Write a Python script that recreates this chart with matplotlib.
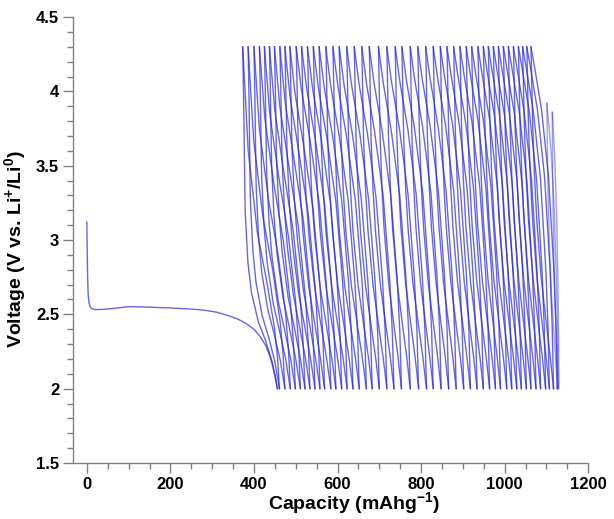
import numpy as np
import matplotlib
matplotlib.use("Agg")
import matplotlib.pyplot as plt
from matplotlib.ticker import MultipleLocator

plt.rcParams['font.family'] = ['Liberation Sans', 'DejaVu Sans']
plt.rcParams['mathtext.fontset'] = 'custom'
plt.rcParams['mathtext.rm'] = 'Liberation Sans:bold'
plt.rcParams['mathtext.bf'] = 'Liberation Sans:bold'
plt.rcParams['mathtext.default'] = 'bf'

# ---- data ----
# first discharge (capacity mAh/g, voltage V)
first_cap = [0, 0.5, 1.5, 3, 5, 8, 12, 20, 35, 50, 70, 90, 100, 120, 150, 200, 250, 280, 310,
             340, 360, 380, 400, 415, 428, 438, 446, 452, 456]
first_v = [3.12, 3.0, 2.8, 2.64, 2.58, 2.55, 2.538, 2.532, 2.533, 2.536, 2.542, 2.548, 2.552,
           2.551, 2.548, 2.543, 2.535, 2.528, 2.515, 2.49, 2.47, 2.44, 2.40, 2.35, 2.29,
           2.22, 2.14, 2.07, 2.0]

# capacity at the end of each charge (4.3 V tips)
top_cap = [373, 386, 400, 413, 425, 437, 449, 462, 474, 486, 501, 514, 528, 542, 556, 572,
           589, 604, 622, 640, 658, 676, 698, 718, 738, 754, 774, 792, 811, 829, 846, 862,
           878, 893, 908, 921, 936, 949, 961, 973, 985, 997, 1009, 1021, 1033, 1043, 1053, 1063]
# capacity at the end of each discharge (2.0 V tips); first one = end of first discharge
bot_cap = [456, 461, 474, 487, 499, 511, 522, 534, 546, 558, 569, 584, 596, 610, 623, 637, 652,
           669, 683, 700, 718, 735, 753, 774, 794, 813, 829, 848, 866, 884, 902, 918, 934,
           949, 964, 978, 990, 1005, 1017, 1029, 1040, 1052, 1063, 1075, 1086, 1098, 1107, 1117, 1126]
# last partial cycles (charge stopping below 4.3 V)
tail_top_cap = [1101, 1114]
tail_top_v = [3.92, 3.86]
tail_bot_cap = [1128, 1130]

v_low, v_high = 2.0, 4.3

# normalized curve shapes: fraction of the span measured from the 4.3 V tip -> voltage
chg_f = [0.0, 0.03, 0.07, 0.15, 0.25, 0.45, 0.65, 0.85, 1.0]
chg_early_v = [4.3, 3.9, 3.2, 2.85, 2.65, 2.45, 2.33, 2.18, 2.0]
chg_late_v = [4.3, 4.1, 3.8, 3.45, 3.15, 2.75, 2.48, 2.22, 2.0]
dis_f = [0.0, 0.15, 0.4, 0.67, 0.87, 0.95, 1.0]
dis_early_v = [4.3, 3.6, 3.05, 2.7, 2.4, 2.2, 2.0]
dis_late_v = [4.3, 4.15, 3.88, 3.42, 2.8, 2.42, 2.0]
blend_cycle = [0, 3, 10, 47]
blend_w = [0.0, 0.4, 0.75, 1.0]

fig = plt.figure(figsize=(6.14, 5.19), dpi=100)
ax = fig.add_axes([0.119, 0.108, 0.839, 0.859])

color = '#2a2ae0'
lw = 1.0
al = 0.72

ax.plot(first_cap, first_v, color=color, lw=lw, alpha=al)

fgrid = np.linspace(0, 1, 120)
def seg(x_tip, x_end, fpts, ve, vl, w, vtop=v_high):
    v = (1 - w) * np.interp(fgrid, fpts, ve) + w * np.interp(fgrid, fpts, vl)
    v = v_low + (v - v_low) * (vtop - v_low) / (v_high - v_low)
    x = x_tip + fgrid * (x_end - x_tip)
    return x, v

n = len(top_cap)
for k in range(n):
    w = np.interp(k, blend_cycle, blend_w)
    # charge: from bot_cap[k] up to top_cap[k]
    x, v = seg(top_cap[k], bot_cap[k], chg_f, chg_early_v, chg_late_v, w)
    ax.plot(x, v, color=color, lw=lw, alpha=al)
    # discharge: from top_cap[k] down to bot_cap[k+1]
    x, v = seg(top_cap[k], bot_cap[k + 1], dis_f, dis_early_v, dis_late_v, w)
    ax.plot(x, v, color=color, lw=lw, alpha=al)

prev_bot = bot_cap[-1]
for tc, tv, bc in zip(tail_top_cap, tail_top_v, tail_bot_cap):
    x, v = seg(tc, prev_bot, chg_f, chg_late_v, chg_late_v, 1.0, tv)
    ax.plot(x, v, color=color, lw=lw, alpha=0.45)
    x, v = seg(tc, bc, dis_f, dis_late_v, dis_late_v, 1.0, tv)
    ax.plot(x, v, color=color, lw=lw, alpha=0.45)
    prev_bot = bc

ax.set_xlim(-33, 1200)
ax.set_ylim(1.5, 4.5)
ax.xaxis.set_major_locator(MultipleLocator(200))
ax.xaxis.set_minor_locator(MultipleLocator(50))
ax.yaxis.set_minor_locator(MultipleLocator(0.1))
ax.set_yticks([1.5, 2, 2.5, 3, 3.5, 4, 4.5])
ax.set_yticklabels(['1.5', '2', '2.5', '3', '3.5', '4', '4.5'])

for s in ['top', 'right']:
    ax.spines[s].set_visible(False)
for s in ['left', 'bottom']:
    ax.spines[s].set_color('#808080')
    ax.spines[s].set_linewidth(1.0)
ax.tick_params(which='major', direction='out', length=7, width=1, color='#808080',
               labelsize=12, pad=3)
ax.tick_params(which='minor', direction='out', length=4, width=1, color='#808080')
for lab in ax.get_xticklabels() + ax.get_yticklabels():
    lab.set_fontweight('bold')

ax.set_xlabel('Capacity (mAhg$^{-1}$)', fontsize=14, fontweight='bold')
ax.set_ylabel('Voltage (V vs. Li$^{+}$/Li$^{0}$)', fontsize=14, fontweight='bold')
ax.xaxis.set_label_coords(0.545, -0.062)
ax.yaxis.set_label_coords(-0.088, 0.48)

fig.savefig('out.png', dpi=100)
